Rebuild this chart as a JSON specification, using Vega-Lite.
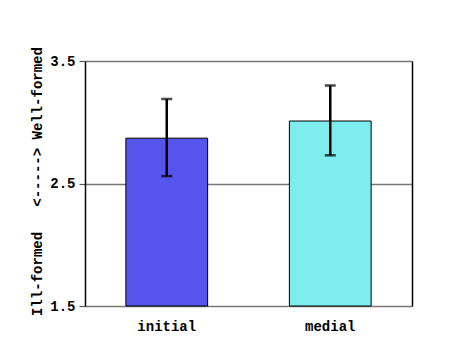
{
  "$schema": "https://vega.github.io/schema/vega-lite/v6.json",
  "autosize": "none",
  "width": 327,
  "height": 245,
  "padding": {"left": 85, "top": 61, "right": 60, "bottom": 31},
  "background": "white",
  "config": {
    "view": {"stroke": null},
    "font": "Liberation Mono"
  },
  "data": {
    "values": [
      {"position": "initial", "mean": 2.87, "lower": 2.56, "upper": 3.19, "base": 1.5},
      {"position": "medial", "mean": 3.01, "lower": 2.73, "upper": 3.3, "base": 1.5}
    ]
  },
  "encoding": {
    "x": {
      "field": "position",
      "type": "nominal",
      "sort": null,
      "scale": {"paddingInner": 0.5, "paddingOuter": 0.25},
      "axis": {
        "title": null,
        "labelAngle": 0,
        "domain": false,
        "ticks": false,
        "labelPadding": 13,
        "labelFont": "Liberation Mono",
        "labelFontWeight": "bold",
        "labelFontSize": 14,
        "labelColor": "black"
      }
    }
  },
  "layer": [
    {
      "mark": {"type": "bar", "stroke": "black", "strokeWidth": 1},
      "encoding": {
        "y": {
          "field": "mean",
          "type": "quantitative",
          "scale": {"domain": [1.5, 3.5], "nice": false, "zero": false},
          "axis": {
            "values": [1.5, 2.5, 3.5],
            "format": ".1f",
            "grid": true,
            "gridColor": "#777777",
            "gridWidth": 1.5,
            "gridOpacity": 1,
            "domainColor": "black",
            "domainWidth": 1.5,
            "tickColor": "#555555",
            "tickSize": 6,
            "tickWidth": 1.2,
            "labelPadding": 4,
            "labelFont": "Liberation Mono",
            "labelFontWeight": "bold",
            "labelFontSize": 14,
            "labelColor": "black",
            "title": "Ill-formed\u00a0\u00a0\u00a0<----->\u00a0Well-formed",
            "titleFont": "Liberation Mono",
            "titleFontWeight": "bold",
            "titleFontSize": 14,
            "titleColor": "black",
            "titleAngle": -90,
            "titleX": -48,
            "titleY": 120,
            "titleAlign": "center",
            "titleBaseline": "middle"
          }
        },
        "y2": {"field": "base"},
        "color": {
          "field": "position",
          "type": "nominal",
          "scale": {"domain": ["initial", "medial"], "range": ["#5555ee", "#7deded"]},
          "legend": null
        }
      }
    },
    {
      "mark": {"type": "rule", "color": "black", "strokeWidth": 2.5},
      "encoding": {
        "y": {"field": "lower", "type": "quantitative", "axis": null},
        "y2": {"field": "upper"}
      }
    },
    {
      "mark": {"type": "tick", "color": "black", "thickness": 2.5, "size": 11},
      "encoding": {
        "y": {"field": "upper", "type": "quantitative", "axis": null}
      }
    },
    {
      "mark": {"type": "tick", "color": "black", "thickness": 2.5, "size": 11},
      "encoding": {
        "y": {
          "field": "lower",
          "type": "quantitative",
          "axis": {
            "orient": "right",
            "labels": false,
            "ticks": false,
            "grid": false,
            "title": null,
            "domainColor": "black",
            "domainWidth": 1.5
          }
        }
      }
    }
  ],
  "resolve": {"scale": {"y": "shared"}, "axis": {"y": "independent"}}
}
